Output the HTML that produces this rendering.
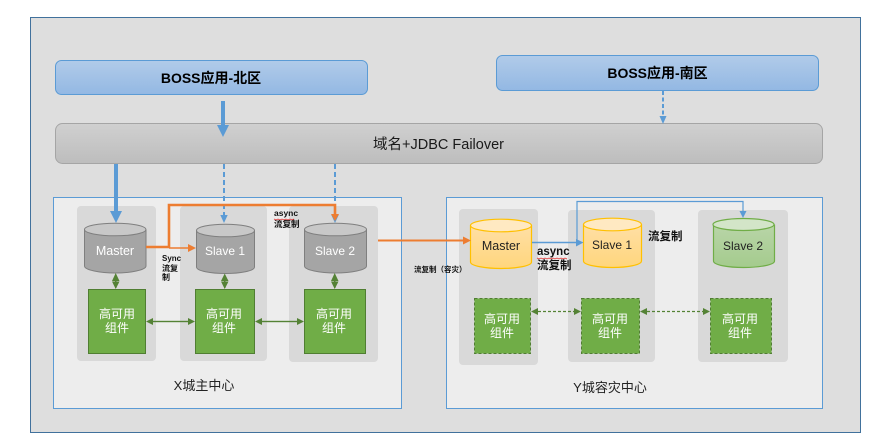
<!DOCTYPE html>
<html>
<head>
<meta charset="utf-8">
<style>
html,body{margin:0;padding:0;background:#fff;width:876px;height:445px;overflow:hidden}
svg{display:block}
text{font-family:"Liberation Sans","Noto Sans CJK SC",sans-serif}
</style>
</head>
<body>
<svg width="876" height="445" viewBox="0 0 876 445" xmlns="http://www.w3.org/2000/svg">
<defs>
<linearGradient id="blue" x1="0" y1="0" x2="0" y2="1"><stop offset="0" stop-color="#b1cbe9"/><stop offset="1" stop-color="#93b8e3"/></linearGradient>
<linearGradient id="grey" x1="0" y1="0" x2="0" y2="1"><stop offset="0" stop-color="#d0d0d0"/><stop offset="1" stop-color="#bdbdbd"/></linearGradient>
<linearGradient id="yel" x1="0" y1="0" x2="0" y2="1"><stop offset="0" stop-color="#ffdfa6"/><stop offset="1" stop-color="#ffd67c"/></linearGradient>
<linearGradient id="grn" x1="0" y1="0" x2="0" y2="1"><stop offset="0" stop-color="#b9d5a8"/><stop offset="1" stop-color="#a4cb8d"/></linearGradient>
</defs>

<rect x="30.5" y="17.5" width="830" height="415" fill="#dedede" stroke="#41719c" stroke-width="1"/>

<rect x="55.5" y="60.5" width="312" height="34" rx="6" fill="url(#blue)" stroke="#5b9bd5"/>
<text x="211" y="83" font-size="14" font-weight="bold" text-anchor="middle" fill="#000">BOSS应用-北区</text>
<rect x="496.5" y="55.5" width="322" height="35" rx="6" fill="url(#blue)" stroke="#5b9bd5"/>
<text x="657.5" y="78" font-size="14" font-weight="bold" text-anchor="middle" fill="#000">BOSS应用-南区</text>

<rect x="55.5" y="123.5" width="767" height="40" rx="7" fill="url(#grey)" stroke="#a5a5a5"/>
<text x="438.5" y="149" font-size="14.5" text-anchor="middle" fill="#1a1a1a">域名+JDBC Failover</text>

<!-- top arrows -->
<rect x="221" y="101" width="4" height="25" fill="#5b9bd5"/>
<polygon points="217,125 229,125 223,137" fill="#5b9bd5"/>
<line x1="663" y1="91" x2="663" y2="118" stroke="#5b9bd5" stroke-width="2" stroke-dasharray="4 2.5"/>
<polygon points="659.5,116 666.5,116 663,124" fill="#5b9bd5"/>

<!-- X center -->
<rect x="53.5" y="197.5" width="348" height="211" fill="#ededed" stroke="#5b9bd5"/>
<rect x="77" y="206" width="79" height="155" rx="4" fill="#d9d9d9"/>
<rect x="180" y="206" width="87" height="155" rx="4" fill="#d9d9d9"/>
<rect x="289" y="206" width="89" height="156" rx="4" fill="#d9d9d9"/>

<!-- Y center -->
<rect x="446.5" y="197.5" width="376" height="211" fill="#ededed" stroke="#5b9bd5"/>
<rect x="459" y="209" width="79" height="156" rx="4" fill="#d9d9d9"/>
<rect x="568" y="210" width="87" height="152" rx="4" fill="#d9d9d9"/>
<rect x="698" y="210" width="90" height="152" rx="4" fill="#d9d9d9"/>

<!-- failover down arrows -->
<rect x="114" y="164" width="4" height="47" fill="#5b9bd5"/>
<polygon points="110,211 122,211 116,223" fill="#5b9bd5"/>
<line x1="224" y1="164" x2="224" y2="216" stroke="#5b9bd5" stroke-width="2" stroke-dasharray="5 3"/>
<polygon points="220.3,215 227.7,215 224,223" fill="#5b9bd5"/>
<line x1="335" y1="164" x2="335" y2="216" stroke="#5b9bd5" stroke-width="2" stroke-dasharray="5 3"/>
<polygon points="331.3,215 338.7,215 335,223" fill="#5b9bd5"/>

<!-- grey cylinders -->
<path d="M84.5 229.5 V266 C84.5 270 100 273 115.2 273 C130.5 273 146 270 146 266 V229.5" fill="#a5a5a5" stroke="#7f7f7f"/>
<ellipse cx="115.2" cy="229.5" rx="30.7" ry="6.3" fill="#c8c8c8" stroke="#7f7f7f"/>
<text x="115" y="255" font-size="12.5" text-anchor="middle" fill="#fff">Master</text>

<path d="M196.5 230.5 V267 C196.5 271 211 273.5 225.5 273.5 C240 273.5 254.5 271 254.5 267 V230.5" fill="#a5a5a5" stroke="#7f7f7f"/>
<ellipse cx="225.5" cy="230.5" rx="29" ry="6.3" fill="#c8c8c8" stroke="#7f7f7f"/>
<text x="225" y="255" font-size="12" text-anchor="middle" fill="#fff">Slave 1</text>

<path d="M304.5 229.5 V266 C304.5 270 320 273 335.5 273 C351 273 366.5 270 366.5 266 V229.5" fill="#a5a5a5" stroke="#7f7f7f"/>
<ellipse cx="335.5" cy="229.5" rx="31" ry="6.3" fill="#c8c8c8" stroke="#7f7f7f"/>
<text x="335" y="255" font-size="12" text-anchor="middle" fill="#fff">Slave 2</text>

<!-- yellow cylinders -->
<path d="M470.5 225.5 V262 C470.5 266 486 268.5 501 268.5 C516 268.5 531.5 266 531.5 262 V225.5" fill="url(#yel)" stroke="#ffc000" stroke-width="1.2"/>
<ellipse cx="501" cy="225.5" rx="30.5" ry="6.3" fill="#ffe9c2" stroke="#ffc000" stroke-width="1.2"/>
<text x="501" y="250" font-size="12.5" text-anchor="middle" fill="#222">Master</text>

<path d="M583.5 224.5 V261 C583.5 265 598 267.5 612.5 267.5 C627 267.5 641.5 265 641.5 261 V224.5" fill="url(#yel)" stroke="#ffc000" stroke-width="1.2"/>
<ellipse cx="612.5" cy="224.5" rx="29" ry="6.3" fill="#ffe9c2" stroke="#ffc000" stroke-width="1.2"/>
<text x="612" y="249" font-size="12" text-anchor="middle" fill="#222">Slave 1</text>

<path d="M713.5 224.5 V261 C713.5 265 728 267.5 743.5 267.5 C759 267.5 774.5 265 774.5 261 V224.5" fill="url(#grn)" stroke="#70ad47" stroke-width="1.2"/>
<ellipse cx="743.5" cy="224.5" rx="30.5" ry="6" fill="#d3e5c8" stroke="#70ad47" stroke-width="1.2"/>
<text x="743" y="250" font-size="12" text-anchor="middle" fill="#222">Slave 2</text>

<!-- green X -->
<g fill="#70ad47" stroke="#507e32">
<rect x="88.5" y="289.5" width="57" height="64"/>
<rect x="195.5" y="289.5" width="59" height="64"/>
<rect x="304.5" y="289.5" width="61" height="64"/>
</g>
<g fill="#fff" font-size="12" text-anchor="middle">
<text x="117" y="318">高可用</text><text x="117" y="332">组件</text>
<text x="224" y="318">高可用</text><text x="224" y="332">组件</text>
<text x="334" y="318">高可用</text><text x="334" y="332">组件</text>
</g>

<!-- green Y dashed -->
<g fill="#70ad47" stroke="#507e32" stroke-dasharray="3 2">
<rect x="474.5" y="298.5" width="56" height="55"/>
<rect x="581.5" y="298.5" width="58" height="55"/>
<rect x="710.5" y="298.5" width="61" height="55"/>
</g>
<g fill="#fff" font-size="12" text-anchor="middle">
<text x="502" y="323">高可用</text><text x="502" y="337">组件</text>
<text x="610" y="323">高可用</text><text x="610" y="337">组件</text>
<text x="740" y="323">高可用</text><text x="740" y="337">组件</text>
</g>

<!-- green vertical arrows -->
<g fill="#548235" stroke="none">
<rect x="115" y="276" width="1.5" height="12"/><polygon points="115.7,273 112,281 119.5,281"/><polygon points="115.7,289 112,281.5 119.5,281.5"/>
<rect x="224" y="276" width="1.5" height="12"/><polygon points="224.7,273.5 221,281 228.5,281"/><polygon points="224.7,289 221,281.5 228.5,281.5"/>
<rect x="334" y="276" width="1.5" height="12"/><polygon points="334.7,273 331,281 338.5,281"/><polygon points="334.7,289 331,281.5 338.5,281.5"/>
</g>
<!-- green horizontal arrows X -->
<g fill="#548235">
<rect x="150" y="320.8" width="42" height="1.4"/><polygon points="146,321.5 153,318 153,325"/><polygon points="195,321.5 188,318 188,325"/>
<rect x="258" y="320.8" width="43" height="1.4"/><polygon points="255,321.5 262,318 262,325"/><polygon points="304,321.5 297,318 297,325"/>
<polygon points="531,311.5 538,308 538,315"/><polygon points="581,311.5 574,308 574,315"/>
<polygon points="640,311.5 647,308 647,315"/><polygon points="710,311.5 703,308 703,315"/>
</g>
<line x1="538" y1="311.5" x2="574" y2="311.5" stroke="#548235" stroke-width="1.2" stroke-dasharray="3 2"/>
<line x1="647" y1="311.5" x2="703" y2="311.5" stroke="#548235" stroke-width="1.2" stroke-dasharray="3 2"/>

<!-- orange -->
<path d="M146 247 H169 V205 H335 V215" fill="none" stroke="#ed7d31" stroke-width="2.6"/>
<line x1="169" y1="248" x2="190" y2="248" stroke="#ed7d31" stroke-width="1.6"/>
<polygon points="188,244 188,252 196,248" fill="#ed7d31"/>
<polygon points="331,214 339,214 335,221" fill="#ed7d31"/>
<line x1="378" y1="240.5" x2="464" y2="240.5" stroke="#ed7d31" stroke-width="2"/>
<polygon points="463,236.5 463,244.5 471,240.5" fill="#ed7d31"/>

<!-- Y blue lines -->
<path d="M532 242.5 H577" fill="none" stroke="#5b9bd5" stroke-width="1.4"/>
<polygon points="576,239 576,246.5 583.5,242.5" fill="#5b9bd5"/>
<path d="M577 243 V201.5 H743 V212" fill="none" stroke="#5b9bd5" stroke-width="1.2"/>
<polygon points="739.5,211 746.5,211 743,218" fill="#5b9bd5"/>

<!-- small labels -->
<g fill="#111" font-weight="bold">
<text x="162" y="261" font-size="8">Sync</text>
<text x="162" y="271" font-size="8">流复</text>
<text x="162" y="280" font-size="8">制</text>
<text x="274" y="216" font-size="8.5">async</text>
<text x="274" y="227" font-size="8.5">流复制</text>
<text x="414" y="272" font-size="7.5">流复制（容灾）</text>
<text x="537" y="255" font-size="11.5">async</text>
<text x="537" y="269" font-size="11.5">流复制</text>
<text x="648" y="240" font-size="11.5">流复制</text>
</g>
<path d="M274 219 l2 1 2 -1 2 1 2 -1 2 1 2 -1 2 1 2 -1 2 1 2 -1" fill="none" stroke="#e03030" stroke-width=".7"/>
<path d="M537 258 l2 1 2 -1 2 1 2 -1 2 1 2 -1 2 1 2 -1 2 1 2 -1 2 1 2 -1 2 1 2 -1 2 1" fill="none" stroke="#e03030" stroke-width=".7"/>

<text x="204" y="390" font-size="13" text-anchor="middle" fill="#222">X城主中心</text>
<text x="610" y="392" font-size="13" text-anchor="middle" fill="#222">Y城容灾中心</text>
</svg>
</body>
</html>
